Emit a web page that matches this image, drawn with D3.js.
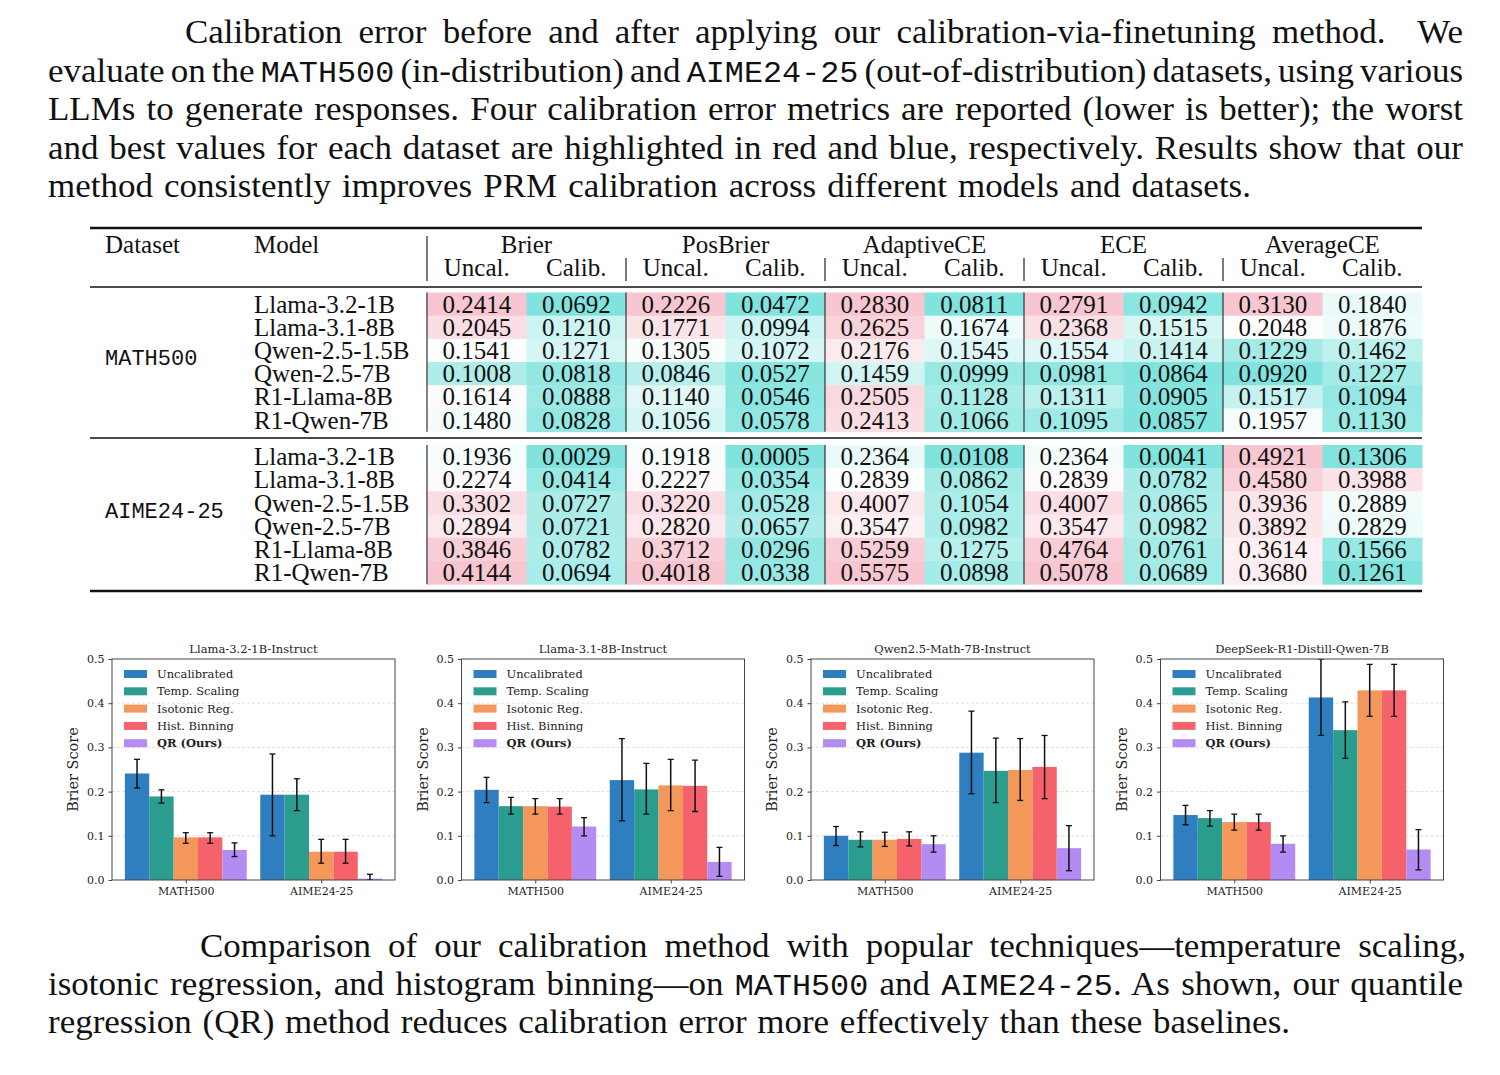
<!DOCTYPE html>
<html>
<head>
<meta charset="utf-8">
<script src="https://cdn.jsdelivr.net/npm/d3@7"></script>
<style>
  body { margin: 0; background: #fff; }
  svg { display: block; }
  text { white-space: pre; }
</style>
</head>
<body>
<svg id="fig" width="1500" height="1075"></svg>
<script>
// ---- caption texts (segments flagged 1 are typewriter) ----
const topCaption = [
  [["Calibration error before and after applying our calibration-via-finetuning method.  We", 0]],
  [["evaluate on the ", 0], ["MATH500", 1], [" (in-distribution) and ", 0], ["AIME24-25", 1], [" (out-of-distribution) datasets, using various", 0]],
  [["LLMs to generate responses. Four calibration error metrics are reported (lower is better); the worst", 0]],
  [["and best values for each dataset are highlighted in red and blue, respectively. Results show that our", 0]],
  [["method consistently improves PRM calibration across different models and datasets.", 0]]
];
const bottomCaption = [
  [["Comparison of our calibration method with popular techniques\u2014temperature scaling,", 0]],
  [["isotonic regression, and histogram binning\u2014on ", 0], ["MATH500", 1], [" and ", 0], ["AIME24-25", 1], [". As shown, our quantile", 0]],
  [["regression (QR) method reduces calibration error more effectively than these baselines.", 0]]
];

// ---- table data ----
const datasets = ["MATH500", "AIME24-25"];
const models = ["Llama-3.2-1B", "Llama-3.1-8B", "Qwen-2.5-1.5B", "Qwen-2.5-7B", "R1-Llama-8B", "R1-Qwen-7B"];
const metrics = ["Brier", "PosBrier", "AdaptiveCE", "ECE", "AverageCE"];
const subCols = ["Uncal.", "Calib."];
const math500Rows = [
  [0.2414, 0.0692, 0.2226, 0.0472, 0.2830, 0.0811, 0.2791, 0.0942, 0.3130, 0.1840],
  [0.2045, 0.1210, 0.1771, 0.0994, 0.2625, 0.1674, 0.2368, 0.1515, 0.2048, 0.1876],
  [0.1541, 0.1271, 0.1305, 0.1072, 0.2176, 0.1545, 0.1554, 0.1414, 0.1229, 0.1462],
  [0.1008, 0.0818, 0.0846, 0.0527, 0.1459, 0.0999, 0.0981, 0.0864, 0.0920, 0.1227],
  [0.1614, 0.0888, 0.1140, 0.0546, 0.2505, 0.1128, 0.1311, 0.0905, 0.1517, 0.1094],
  [0.1480, 0.0828, 0.1056, 0.0578, 0.2413, 0.1066, 0.1095, 0.0857, 0.1957, 0.1130]
];
const aimeRows = [
  [0.1936, 0.0029, 0.1918, 0.0005, 0.2364, 0.0108, 0.2364, 0.0041, 0.4921, 0.1306],
  [0.2274, 0.0414, 0.2227, 0.0354, 0.2839, 0.0862, 0.2839, 0.0782, 0.4580, 0.3988],
  [0.3302, 0.0727, 0.3220, 0.0528, 0.4007, 0.1054, 0.4007, 0.0865, 0.3936, 0.2889],
  [0.2894, 0.0721, 0.2820, 0.0657, 0.3547, 0.0982, 0.3547, 0.0982, 0.3892, 0.2829],
  [0.3846, 0.0782, 0.3712, 0.0296, 0.5259, 0.1275, 0.4764, 0.0761, 0.3614, 0.1566],
  [0.4144, 0.0694, 0.4018, 0.0338, 0.5575, 0.0898, 0.5078, 0.0689, 0.3680, 0.1261]
];

// ---- bar chart data: [chart][group][method] ----
const chartTitles = ["Llama-3.2-1B-Instruct", "Llama-3.1-8B-Instruct", "Qwen2.5-Math-7B-Instruct", "DeepSeek-R1-Distill-Qwen-7B"];
const methods = ["Uncalibrated", "Temp. Scaling", "Isotonic Reg.", "Hist. Binning", "QR (Ours)"];
const groups = ["MATH500", "AIME24-25"];
const brierMean = [
  [[0.241, 0.189, 0.0965, 0.0965, 0.068], [0.193, 0.193, 0.064, 0.064, 0.003]],
  [[0.204, 0.167, 0.167, 0.166, 0.121], [0.226, 0.205, 0.214, 0.213, 0.041]],
  [[0.100, 0.091, 0.091, 0.093, 0.081], [0.288, 0.247, 0.249, 0.256, 0.072]],
  [[0.147, 0.140, 0.131, 0.131, 0.082], [0.413, 0.339, 0.429, 0.429, 0.069]]
];
const brierLow = [
  [[0.208, 0.174, 0.083, 0.083, 0.053], [0.100, 0.157, 0.038, 0.038, 0.000]],
  [[0.175, 0.149, 0.149, 0.149, 0.100], [0.134, 0.149, 0.157, 0.155, 0.008]],
  [[0.078, 0.075, 0.076, 0.077, 0.063], [0.195, 0.175, 0.180, 0.184, 0.021]],
  [[0.125, 0.122, 0.113, 0.113, 0.063], [0.327, 0.275, 0.370, 0.370, 0.023]]
];
const brierHigh = [
  [[0.273, 0.204, 0.107, 0.107, 0.084], [0.285, 0.229, 0.092, 0.092, 0.013]],
  [[0.232, 0.187, 0.184, 0.184, 0.141], [0.320, 0.264, 0.273, 0.271, 0.074]],
  [[0.121, 0.109, 0.108, 0.109, 0.100], [0.382, 0.321, 0.320, 0.327, 0.123]],
  [[0.169, 0.157, 0.149, 0.149, 0.100], [0.500, 0.403, 0.488, 0.488, 0.114]]
];
const yTicks = [0, 0.1, 0.2, 0.3, 0.4, 0.5];

const methodColors = ["#2f7ec0", "#2a9d8f", "#f4975b", "#f6626b", "#b38bf3"];
const serif = "'Liberation Serif', 'Times New Roman', serif";
const mono = "'Liberation Mono', 'Courier New', monospace";
const plotFont = "'DejaVu Serif', serif";

const svg = d3.select("#fig");

// ---- captions: justified with word-spacing, slight horizontal stretch ----
const capScale = 1.06;
function drawCaption(lines, firstX, baseline, step, ends) {
  lines.forEach((segs, i) => {
    const x = i === 0 ? firstX : 48;
    const t = svg.append("text")
      .attr("transform", `translate(${x},${baseline + i * step}) scale(${capScale},1)`)
      .attr("font-family", serif).attr("font-size", 33).attr("fill", "#111");
    segs.forEach(s => {
      const ts = t.append("tspan").text(s[0]);
      if (s[1]) ts.attr("font-family", mono).attr("font-size", 30);
    });
    const natural = t.node().getComputedTextLength();
    const spaces = segs.map(s => s[0]).join("").split(" ").length - 1;
    const target = (ends[i] - x) / capScale;
    t.attr("word-spacing", ((target - natural) / spaces).toFixed(2));
  });
}
drawCaption(topCaption, 185, 43, 38.5, [1463, 1463, 1463, 1463, 1251]);
drawCaption(bottomCaption, 200, 957, 38, [1466, 1463, 1290]);

// ---- table ----
const colX = d3.range(11).map(i => 427 + i * 99.5);
const rowH = 23.2;
const table = svg.append("g").attr("font-family", serif).attr("font-size", 25).attr("fill", "#111");

table.append("text").attr("x", 105).attr("y", 253).text("Dataset");
table.append("text").attr("x", 254).attr("y", 253).text("Model");
metrics.forEach((m, k) => {
  table.append("text").attr("x", (colX[2 * k] + colX[2 * k + 2]) / 2).attr("y", 253)
    .attr("text-anchor", "middle").text(m);
  subCols.forEach((s, j) => {
    table.append("text").attr("x", (colX[2 * k + j] + colX[2 * k + j + 1]) / 2).attr("y", 276)
      .attr("text-anchor", "middle").text(s);
  });
});
// header separators
svg.append("line").attr("x1", 427).attr("x2", 427).attr("y1", 236).attr("y2", 281).attr("stroke", "#222").attr("stroke-width", 1.2);
[2, 4, 6, 8].forEach(c => {
  svg.append("line").attr("x1", colX[c]).attr("x2", colX[c]).attr("y1", 258).attr("y2", 281)
    .attr("stroke", "#222").attr("stroke-width", 1.2);
});

function drawBlock(rows, name, top) {
  // colour per metric: diverging around midpoint of both columns
  metrics.forEach((m, k) => {
    const vals = rows.flatMap(r => [r[2 * k], r[2 * k + 1]]);
    const lo = d3.min(vals), hi = d3.max(vals);
    const color = d3.scaleLinear().domain([lo, (lo + hi) / 2, hi])
      .range(["#80e3de", "#ffffff", "#f7c6d0"]);
    rows.forEach((r, i) => {
      [0, 1].forEach(j => {
        const c = 2 * k + j;
        table.append("rect").attr("x", colX[c]).attr("y", top + i * rowH)
          .attr("width", colX[c + 1] - colX[c] + 0.5).attr("height", rowH + 0.5)
          .attr("fill", color(r[c]));
      });
    });
  });
  rows.forEach((r, i) => {
    const cy = top + i * rowH + rowH / 2 + 8.5;
    table.append("text").attr("x", 254).attr("y", cy).text(models[i]);
    r.forEach((v, c) => {
      table.append("text").attr("x", (colX[c] + colX[c + 1]) / 2).attr("y", cy)
        .attr("text-anchor", "middle").text(v.toFixed(4));
    });
  });
  table.append("text").attr("x", 105).attr("y", top + rowH * 3 + 3)
    .attr("font-family", mono).attr("font-size", 22).text(name);
  [0, 2, 4, 6, 8].forEach(c => {
    svg.append("line").attr("x1", colX[c]).attr("x2", colX[c]).attr("y1", top).attr("y2", top + rowH * 6)
      .attr("stroke", "#333").attr("stroke-width", 1.2);
  });
}
drawBlock(math500Rows, datasets[0], 292.5);
drawBlock(aimeRows, datasets[1], 445);

[[228, 2.5], [287, 1.5], [438, 1.5], [591, 2.5]].forEach(([y, w]) => {
  svg.append("line").attr("x1", 90).attr("x2", 1422).attr("y1", y).attr("y2", y)
    .attr("stroke", "#111").attr("stroke-width", w);
});

// ---- bar charts ----
const plotW = 283, plotTop = 659, plotBottom = 880;
const barW = 0.18;

chartTitles.forEach((title, ci) => {
  const left = 112 + ci * 349.5;
  const x = d3.scaleLinear().domain([-0.545, 1.545]).range([left, left + plotW]);
  const y = d3.scaleLinear().domain([0, 0.5]).range([plotBottom, plotTop]);
  const g = svg.append("g").attr("font-family", plotFont).attr("fill", "#222");

  const clipId = "clip" + ci;
  g.append("clipPath").attr("id", clipId).append("rect")
    .attr("x", left).attr("y", plotTop).attr("width", plotW).attr("height", plotBottom - plotTop);

  // grid
  g.selectAll(".grid").data(yTicks.slice(1, 5)).join("line")
    .attr("x1", left).attr("x2", left + plotW)
    .attr("y1", d => y(d)).attr("y2", d => y(d))
    .attr("stroke", "#d8d8d8").attr("stroke-width", 0.8).attr("stroke-dasharray", "3,2");

  const bars = groups.flatMap((grp, gi) => methods.map((m, mi) => ({
    gi, mi, v: brierMean[ci][gi][mi], lo: brierLow[ci][gi][mi], hi: brierHigh[ci][gi][mi],
    cx: gi + (mi - 2) * barW
  })));

  const plot = g.append("g").attr("clip-path", `url(#${clipId})`);
  plot.selectAll("rect.bar").data(bars).join("rect")
    .attr("x", d => x(d.cx - barW / 2))
    .attr("width", x(barW) - x(0))
    .attr("y", d => y(d.v))
    .attr("height", d => y(0) - y(d.v))
    .attr("fill", d => methodColors[d.mi]);

  plot.selectAll("line.err").data(bars).join("line")
    .attr("x1", d => x(d.cx)).attr("x2", d => x(d.cx))
    .attr("y1", d => y(d.lo)).attr("y2", d => y(d.hi))
    .attr("stroke", "#111").attr("stroke-width", 1.5);
  ["lo", "hi"].forEach(k => {
    plot.selectAll("line.cap" + k).data(bars).join("line")
      .attr("x1", d => x(d.cx) - 3).attr("x2", d => x(d.cx) + 3)
      .attr("y1", d => y(d[k])).attr("y2", d => y(d[k]))
      .attr("stroke", "#111").attr("stroke-width", 1.3);
  });

  // spines
  g.append("rect").attr("x", left).attr("y", plotTop).attr("width", plotW).attr("height", plotBottom - plotTop)
    .attr("fill", "none").attr("stroke", "#444").attr("stroke-width", 1);

  // axes
  const yAxis = g.append("g").attr("transform", `translate(${left},0)`)
    .call(d3.axisLeft(y).tickValues(yTicks).tickFormat(d3.format(".1f")).tickSize(3.5).tickPadding(4));
  const xAxis = g.append("g").attr("transform", `translate(0,${plotBottom})`)
    .call(d3.axisBottom(x).tickValues([0, 1]).tickFormat(i => groups[i]).tickSize(3.5).tickPadding(4));
  [yAxis, xAxis].forEach(a => {
    a.select(".domain").remove();
    a.selectAll("line").attr("stroke", "#444");
    a.selectAll("text").attr("font-family", plotFont).attr("font-size", 11).attr("fill", "#222");
  });

  g.append("text").attr("x", left + plotW / 2).attr("y", plotTop - 6)
    .attr("text-anchor", "middle").attr("font-size", 11.5).text(title);
  g.append("text").attr("transform", `translate(${left - 34},${(plotTop + plotBottom) / 2}) rotate(-90)`)
    .attr("text-anchor", "middle").attr("font-size", 14.5).text("Brier Score");

  // legend
  const lg = g.append("g");
  methods.forEach((m, mi) => {
    const cy = plotTop + 15 + mi * 17.3;
    lg.append("rect").attr("x", left + 12).attr("y", cy - 4).attr("width", 23).attr("height", 8)
      .attr("fill", methodColors[mi]);
    lg.append("text").attr("x", left + 45).attr("y", cy + 4)
      .attr("font-size", 11.5).attr("font-weight", mi === 4 ? "bold" : "normal").text(m);
  });
});
</script>
</body>
</html>
